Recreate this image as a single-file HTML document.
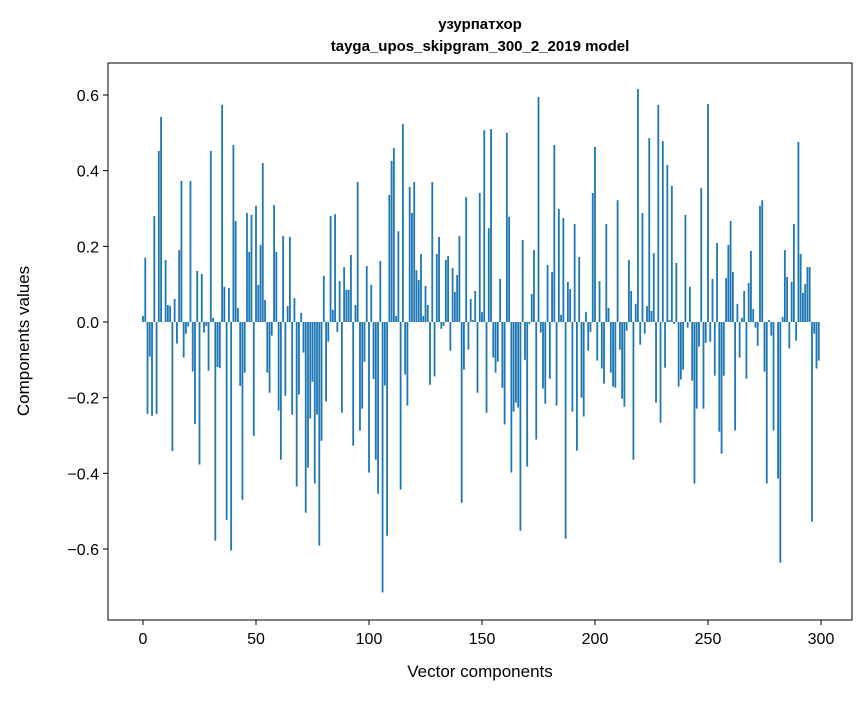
<!DOCTYPE html>
<html><head><meta charset="utf-8"><style>
body{margin:0;background:#fff;}
svg text{font-family:"Liberation Sans","DejaVu Sans",sans-serif;fill:#000;}
</style></head><body>
<svg id="chart" width="867" height="696" viewBox="0 0 867 696" xmlns="http://www.w3.org/2000/svg">
<rect width="867" height="696" fill="#fff"/>
<text x="480" y="29" text-anchor="middle" font-size="15" font-weight="bold">узурпатхор</text>
<text x="480" y="51" text-anchor="middle" font-size="15" font-weight="bold">tayga_upos_skipgram_300_2_2019 model</text>
<g id="bars"></g>
<g id="xticks"></g>
<g id="yticks"></g>
<rect x="108" y="63" width="744" height="557" fill="none" stroke="#000" stroke-width="1"/>
<text x="480" y="677" text-anchor="middle" font-size="17">Vector components</text>
<text x="0" y="0" transform="translate(29,341) rotate(-90)" text-anchor="middle" font-size="17">Components values</text>
</svg>
<script>
const values = [
0.016,0.17,-0.243,-0.092,-0.248,0.28,-0.243,0.452,0.542,0.0,
0.164,0.045,0.042,-0.341,0.061,-0.057,0.19,0.373,-0.094,-0.031,
-0.012,0.373,-0.131,-0.27,0.135,-0.377,0.127,-0.028,-0.01,-0.129,
0.452,0.011,-0.578,-0.119,-0.122,0.574,0.093,-0.523,0.09,-0.604,
0.468,0.267,0.037,-0.169,-0.47,-0.134,0.288,0.185,0.283,-0.301,
0.307,0.098,0.204,0.42,0.058,-0.134,-0.187,-0.036,0.309,0.185,
-0.234,-0.364,0.227,-0.195,0.042,0.225,-0.245,0.063,-0.435,-0.192,
0.024,-0.081,-0.504,-0.385,-0.255,-0.158,-0.427,-0.245,-0.591,-0.314,
0.122,-0.21,-0.052,0.28,0.032,0.285,-0.026,0.108,-0.24,0.145,
0.085,0.085,0.177,-0.327,0.045,0.37,-0.287,-0.229,-0.105,0.148,
-0.398,0.098,-0.151,-0.364,-0.454,0.161,-0.715,-0.168,-0.565,0.336,
0.426,0.46,0.016,0.24,-0.443,0.523,-0.139,-0.221,0.357,0.288,
0.37,0.137,0.111,0.18,0.016,0.095,0.045,-0.166,0.37,-0.144,
0.18,0.225,-0.018,-0.01,0.164,0.174,-0.076,0.143,0.079,0.124,
0.227,-0.478,-0.126,0.33,-0.073,0.061,0.005,0.082,-0.187,0.341,
0.026,0.507,-0.24,0.248,0.51,-0.094,-0.134,-0.105,0.114,-0.174,
-0.271,0.5,0.278,-0.398,-0.237,-0.213,-0.226,-0.552,0.217,-0.1,
-0.382,-0.005,0.074,0.19,-0.311,0.595,-0.028,-0.176,-0.216,0.151,
-0.15,0.132,0.468,-0.221,0.299,0.019,0.275,-0.573,0.106,0.087,
-0.237,0.259,-0.34,0.172,-0.2,-0.25,0.026,-0.076,-0.026,0.341,
0.463,-0.102,0.108,-0.123,-0.163,0.259,0.037,-0.134,-0.171,-0.174,
0.322,-0.073,-0.203,-0.224,-0.023,0.164,0.082,-0.364,0.048,0.616,
-0.06,0.288,-0.031,0.042,0.486,0.029,0.182,-0.213,0.574,-0.266,
0.478,-0.121,0.415,0.005,0.36,-0.005,0.156,-0.171,-0.152,-0.126,
0.283,-0.015,0.093,-0.155,-0.427,-0.229,-0.065,0.354,-0.229,-0.055,
0.576,-0.052,0.114,-0.142,0.209,-0.29,-0.348,-0.142,0.116,0.204,
0.267,0.132,-0.287,0.048,-0.094,0.011,0.082,-0.15,0.103,0.188,
0.034,-0.015,-0.063,0.307,0.322,-0.131,-0.427,0.005,-0.036,-0.287,
0.0,-0.414,-0.636,0.013,0.19,0.119,-0.07,0.106,0.259,-0.049,
0.476,0.18,0.077,0.1,0.145,0.145,-0.528,-0.031,-0.123,-0.102
];
const xTickLabels = [0,50,100,150,200,250,300];
const yTickValues = [-0.6,-0.4,-0.2,0.0,0.2,0.4,0.6];
const yTickLabels = ["\u22120.6","\u22120.4","\u22120.2","0.0","0.2","0.4","0.6"];

const NS="http://www.w3.org/2000/svg";
function xScale(i){return 143 + i*2.26;}
function yScale(v){return 322 - v*378.3;}
const bw = 0.8*2.26;
const gb=document.getElementById('bars');
values.forEach((v,i)=>{
  const r=document.createElementNS(NS,'rect');
  const y0=yScale(0), y1=yScale(v);
  r.setAttribute('x',(xScale(i)-bw/2).toFixed(2));
  r.setAttribute('y',Math.min(y0,y1).toFixed(2));
  r.setAttribute('width',bw.toFixed(2));
  r.setAttribute('height',Math.max(Math.abs(y1-y0),0.01).toFixed(2));
  r.setAttribute('fill','#1f77b4');
  
  
  gb.appendChild(r);
});
const gx=document.getElementById('xticks');
xTickLabels.forEach(t=>{
  const x=xScale(t);
  const l=document.createElementNS(NS,'line');
  l.setAttribute('x1',x);l.setAttribute('x2',x);l.setAttribute('y1',620);l.setAttribute('y2',625);
  l.setAttribute('stroke','#000');
  
  
  gx.appendChild(l);
  const tx=document.createElementNS(NS,'text');
  tx.setAttribute('x',x);tx.setAttribute('y',644);tx.setAttribute('text-anchor','middle');tx.setAttribute('font-size','16');
  tx.textContent=t;
  
  
  gx.appendChild(tx);
});
const gy=document.getElementById('yticks');
yTickValues.forEach((t,k)=>{
  const y=yScale(t);
  const l=document.createElementNS(NS,'line');
  l.setAttribute('x1',103);l.setAttribute('x2',108);l.setAttribute('y1',y);l.setAttribute('y2',y);
  l.setAttribute('stroke','#000');
  
  
  gy.appendChild(l);
  const tx=document.createElementNS(NS,'text');
  tx.setAttribute('x',99);tx.setAttribute('y',y+6);tx.setAttribute('text-anchor','end');tx.setAttribute('font-size','16');
  tx.textContent=yTickLabels[k];
  
  
  gy.appendChild(tx);
});
</script>
</body></html>
